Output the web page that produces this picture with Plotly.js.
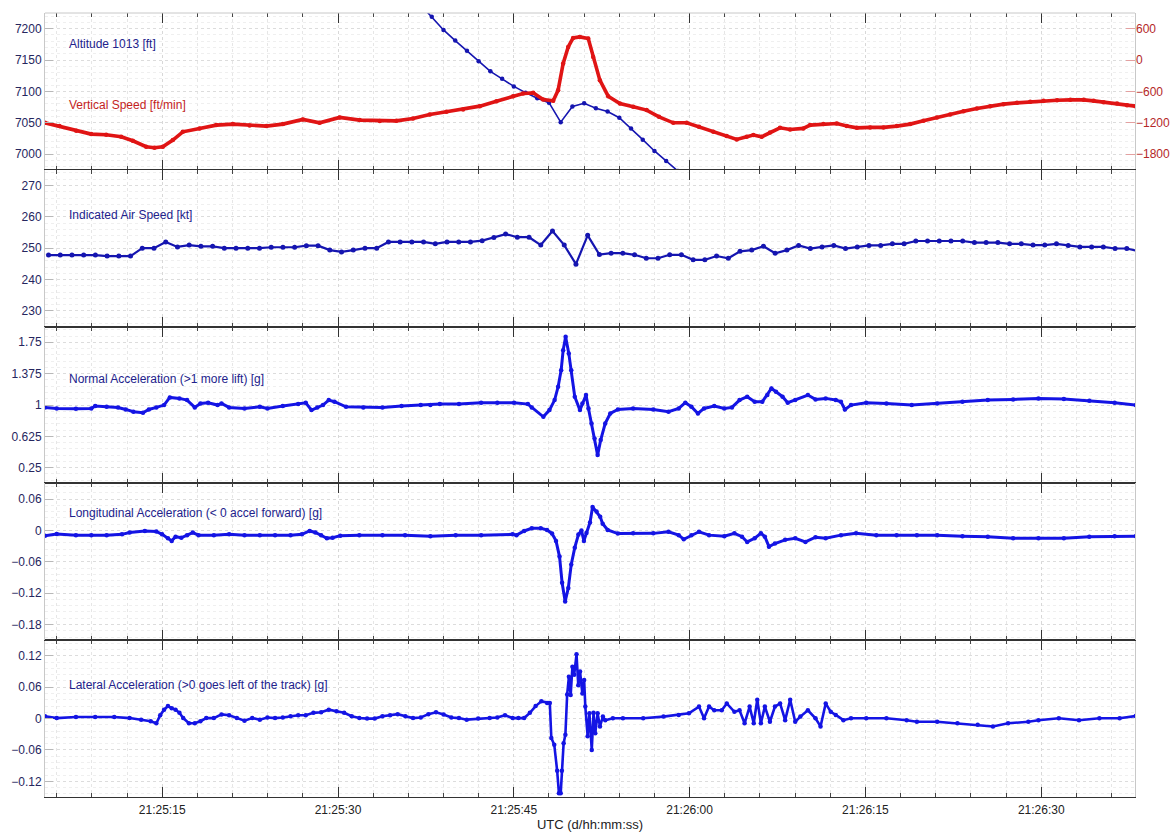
<!DOCTYPE html>
<html>
<head>
<meta charset="utf-8">
<script src="https://cdn.plot.ly/plotly-3.0.1.min.js"></script>
<style>
html,body{margin:0;padding:0;background:#fff;}
#chart{width:1174px;height:834px;}
</style>
</head>
<body>
<div id="chart"></div>
<script>
// ---- time base: seconds after 21:25:00 UTC ----
const baseDate = '2021-01-01';
const xStartLabel = '21:25:05';
const xEndLabel = '21:26:38';

// ---- Panel 1: Altitude 1013 [ft] (left axis) ----
const altTime = [37,38,39,40,41,42,43,44,45,46,47,48,49,50,51,52,53,54,55,56,57,58,59];
const altFt   = [7239,7219,7198,7181,7165,7148,7132,7120,7108,7098,7089,7082,7051,7076,7081,7073,7068,7058,7041,7023,7005,6989,6973];

// ---- Panel 1: Vertical Speed [ft/min] (right axis) ----
const vsTime = [5.0,6.23,7.66,8.94,10.22,11.5,12.49,13.63,14.34,15.05,15.91,16.76,18.19,19.61,21.03,22.46,23.88,25.3,27.0,28.43,30.14,31.85,33.56,34.98,36.4,37.83,39.25,40.67,42.1,43.52,44.94,45.79,46.65,47.5,48.36,48.78,49.21,49.64,50.06,50.63,51.35,51.77,52.34,53.05,54.05,55.19,56.33,57.39,58.6,59.75,60.8,62.02,63.16,64.02,64.87,65.44,66.15,66.86,67.71,68.57,69.7,70.28,71.41,72.56,73.41,74.27,75.4,76.54,77.68,78.82,79.95,81.1,82.23,83.37,84.51,85.65,86.78,87.93,89.06,90.2,91.35,92.48,93.62,94.47,95.32,96.47,97.32,98.03];
const vsFpm  = [-1201,-1264,-1354,-1417,-1430,-1468,-1545,-1659,-1678,-1659,-1531,-1373,-1308,-1245,-1226,-1251,-1264,-1226,-1136,-1201,-1098,-1149,-1165,-1163,-1117,-1041,-991,-945,-882,-787,-691,-640,-628,-754,-781,-576,-66,251,423,442,411,60,-385,-691,-831,-895,-958,-1086,-1201,-1201,-1277,-1373,-1455,-1518,-1468,-1436,-1468,-1384,-1297,-1328,-1308,-1245,-1226,-1213,-1264,-1297,-1289,-1289,-1264,-1226,-1163,-1098,-1041,-978,-926,-882,-844,-819,-800,-781,-768,-762,-762,-781,-806,-831,-863,-882];

// ---- Panel 2: Indicated Air Speed [kt] ----
const iasTime = [5.3,6.3,7.3,8.3,9.3,10.3,11.3,12.3,13.3,14.3,15.3,16.3,17.3,18.3,19.3,20.3,21.3,22.3,23.3,24.3,25.3,26.3,27.3,28.3,29.3,30.3,31.3,32.3,33.3,34.3,35.3,36.3,37.3,38.3,39.3,40.3,41.3,42.3,43.3,44.3,45.3,46.3,47.3,48.3,49.3,50.3,51.3,52.3,53.3,54.3,55.3,56.3,57.3,58.3,59.3,60.3,61.3,62.3,63.3,64.3,65.3,66.3,67.3,68.3,69.3,70.3,71.3,72.3,73.3,74.3,75.3,76.3,77.3,78.3,79.3,80.3,81.3,82.3,83.3,84.3,85.3,86.3,87.3,88.3,89.3,90.3,91.3,92.3,93.3,94.3,95.3,96.3,97.3,98.3];
const iasKt   = [247.8,247.8,247.8,247.8,247.8,247.5,247.5,247.5,250,250,252,250.4,251,250.6,250.6,250,250,250,250,250.3,250.3,250.3,250.8,250.8,249.4,248.8,249.4,250,250,252,252,252,252,251.4,252,252,252,252.4,253.4,254.5,253.5,253.5,251,255.5,251,244.9,254.1,248,248.4,248.4,247.9,246.8,246.8,247.9,247.9,246.3,246.3,247.5,246.8,249,249.4,250.6,248.4,249.4,250.9,249.9,250.4,250.9,249.9,250.4,250.9,250.9,251.4,251.4,252.3,252.3,252.3,252.3,252.3,251.8,251.8,251.8,251.4,251.4,251,251,251.4,250.9,250.4,250.4,250.4,249.9,249.9,249.1];

// ---- Panel 3: Normal Acceleration [g] ----
const nzTime = [5.0,6.0,7.64,8.95,9.28,10.26,11.23,11.89,12.54,13.36,13.86,14.5,15.16,15.65,16.47,17.12,17.78,18.26,18.92,19.73,20.06,20.71,22.02,23.33,23.98,25.29,26.6,27.25,27.74,28.23,28.72,29.21,29.7,30.68,32.16,33.79,35.42,37.06,37.88,38.69,40.32,42.21,43.59,45.02,46.2,46.53,47.52,48.04,48.48,48.78,49.04,49.21,49.42,49.69,49.9,50.2,50.64,50.85,51.16,51.37,51.63,51.89,52.15,52.41,52.8,53.23,53.88,55.18,56.9,58.2,59.07,59.63,60.15,60.71,61.23,62.1,62.96,63.61,64.26,64.91,65.55,66.2,66.63,66.98,67.37,67.93,68.37,69.01,70.09,70.74,71.61,72.47,72.91,73.25,73.77,75.07,76.79,78.95,81.12,83.28,85.44,87.6,89.76,91.93,94.1,96.26,98.07];
const nzG    = [0.971,0.959,0.955,0.959,0.987,0.979,0.971,0.947,0.919,0.907,0.947,0.971,0.999,1.091,1.079,1.059,0.971,1.019,1.027,0.999,1.019,0.971,0.959,0.979,0.959,0.987,1.011,1.027,0.939,0.971,0.999,1.059,1.039,0.979,0.971,0.971,0.987,0.999,0.999,1.011,1.011,1.027,1.027,1.027,1.011,0.971,0.859,0.939,1.059,1.218,1.417,1.656,1.815,1.617,1.417,1.099,0.939,1.019,1.119,0.959,0.78,0.6,0.401,0.58,0.78,0.899,0.947,0.959,0.947,0.919,0.959,1.027,0.979,0.899,0.959,0.987,0.959,0.971,1.059,1.099,1.039,1.039,1.119,1.198,1.158,1.099,1.027,1.059,1.119,1.067,1.079,1.059,1.039,0.947,0.999,1.027,1.019,0.999,1.019,1.039,1.059,1.067,1.079,1.071,1.051,1.027,0.999];

// ---- Panel 4: Longitudinal Acceleration [g] ----
const nxTime = [5.0,6.0,7.64,8.95,10.26,11.57,12.22,13.52,14.5,14.99,15.49,15.81,16.14,16.63,17.12,17.61,18.1,19.41,20.71,22.02,23.33,24.63,25.95,26.92,27.58,28.07,28.56,29.05,29.54,30.19,31.82,33.79,35.72,37.88,40.04,42.21,44.9,45.23,45.88,46.53,47.3,47.83,48.26,48.6,48.9,49.12,49.38,49.65,49.9,50.2,50.51,50.77,50.98,51.2,51.5,51.72,52.06,52.37,52.58,53.01,53.88,55.18,56.9,58.2,59.07,59.5,60.15,60.8,61.66,62.96,63.82,64.47,64.91,65.55,66.08,66.42,66.77,67.28,68.15,69.01,69.88,70.74,71.61,72.91,74.2,75.93,77.66,79.39,81.12,83.28,85.44,87.6,89.76,91.93,94.1,96.26,98.07];
const nxG    = [-0.01,-0.007,-0.009,-0.009,-0.009,-0.0075,-0.004,-0.001,-0.002,-0.0075,-0.015,-0.02,-0.012,-0.014,-0.009,-0.004,-0.009,-0.009,-0.0075,-0.009,-0.009,-0.009,-0.009,-0.0075,-0.001,-0.004,-0.009,-0.015,-0.014,-0.01,-0.009,-0.009,-0.009,-0.011,-0.009,-0.009,-0.0075,-0.009,-0.001,0.004,0.004,0.001,-0.006,-0.02,-0.05,-0.1,-0.136,-0.11,-0.065,-0.033,-0.008,0.0,-0.02,-0.005,0.015,0.045,0.036,0.026,0.013,0.001,-0.006,-0.0056,-0.0056,-0.0025,-0.009,-0.017,-0.009,-0.0025,-0.009,-0.011,-0.0056,-0.012,-0.022,-0.015,-0.0056,-0.012,-0.031,-0.025,-0.018,-0.015,-0.022,-0.013,-0.015,-0.009,-0.0056,-0.009,-0.009,-0.009,-0.009,-0.011,-0.012,-0.015,-0.015,-0.015,-0.012,-0.011,-0.011];

// ---- Panel 5: Lateral Acceleration [g] ----
const nyTime = [5.0,6.0,7.64,9.28,10.91,12.22,13.2,14.02,14.5,14.83,15.16,15.49,15.81,16.14,16.47,16.79,17.28,17.78,18.26,18.76,19.41,20.06,20.71,21.37,22.02,22.68,23.33,23.98,24.63,25.29,25.95,26.6,27.25,27.9,28.56,29.21,29.87,30.52,31.17,31.82,32.48,33.13,33.79,34.44,35.09,35.75,36.4,37.06,37.71,38.36,39.01,39.67,40.32,40.98,41.96,42.94,43.59,44.25,44.9,45.39,45.88,46.37,46.86,47.35,47.84,48.07,48.2,48.45,48.7,48.85,49.0,49.1,49.25,49.4,49.55,49.7,49.85,50.0,50.15,50.35,50.5,50.65,50.85,51.0,51.1,51.3,51.45,51.65,51.8,51.95,52.15,52.35,52.6,52.8,53.45,54.31,56.04,57.77,59.07,59.94,60.8,61.23,61.66,62.1,62.74,63.17,63.82,64.26,64.69,65.12,65.47,65.77,66.08,66.42,66.85,67.28,67.72,68.15,68.58,69.01,69.45,70.09,70.74,71.17,71.61,72.04,72.47,73.12,73.77,75.07,76.79,78.52,79.39,81.12,82.85,84.58,85.88,87.17,88.9,89.76,91.5,93.22,94.96,96.69,98.07];
const nyG    = [0.0045,0.001,0.003,0.003,0.003,0.001,-0.002,-0.005,-0.009,0.0065,0.017,0.024,0.02,0.017,0.011,0.001,-0.009,-0.009,-0.005,0.001,0.001,0.008,0.0065,0.001,-0.004,0.001,-0.002,0.002,0.001,0.002,0.0045,0.0065,0.0065,0.011,0.012,0.017,0.014,0.011,0.0045,0.001,0.0,0.0,0.0045,0.0065,0.0085,0.0045,0.001,0.002,0.0085,0.012,0.008,0.002,0.001,-0.002,0.0,0.001,0.002,0.0065,0.001,0.001,0.001,0.011,0.024,0.033,0.03,0.03,-0.037,-0.05,-0.1,-0.143,-0.143,-0.1,-0.047,-0.031,0.046,0.08,0.045,0.099,0.084,0.123,0.064,0.09,0.048,0.074,0.023,-0.034,0.01,-0.06,0.011,-0.028,0.01,-0.015,0.004,-0.003,0.0006,0.0006,0.0006,0.0038,0.007,0.01,0.023,0.0006,0.023,0.016,0.016,0.029,0.013,0.016,-0.009,0.023,-0.009,0.036,-0.009,0.023,-0.006,0.023,0.029,-0.003,0.036,-0.006,0.0038,0.016,0.0006,-0.015,0.029,0.013,0.007,-0.003,0.0006,0.0006,0.0006,-0.003,-0.006,-0.006,-0.009,-0.012,-0.015,-0.009,-0.006,-0.003,0.0006,-0.003,0.0006,0.0006,0.005];

// ---- tick values / labels ----
const altTicks = [7000,7050,7100,7150,7200];
const vsTicks = [-1800,-1200,-600,0,600];
const iasTicks = [230,240,250,260,270];
const nzTicks = [0.25,0.625,1,1.375,1.75];
const nzTickText = ['0.25','0.625','1','1.375','1.75'];
const nxTicks = [-0.18,-0.12,-0.06,0,0.06];
const nyTicks = [-0.12,-0.06,0,0.06,0.12];
const xTitle = 'UTC (d/hh:mm:ss)';
const panelLabels = ['Altitude 1013 [ft]','Vertical Speed [ft/min]','Indicated Air Speed [kt]','Normal Acceleration (>1 more lift) [g]','Longitudinal Acceleration (< 0 accel forward) [g]','Lateral Acceleration (>0 goes left of the track) [g]'];

// ---- helpers ----
const base = Date.UTC(2021,0,1,21,25,0);
const toX = arr => arr.map(s => base + s*1000);
const FONT = 'Liberation Sans, Arial, sans-serif';
const BLUE = '#1414e4';
const DBLUE = '#1515b0';
const RED = '#e01414';

function trace(t, v, xa, ya, color, lw, ms){
  return {x: toX(t), y: v, xaxis: xa, yaxis: ya, type: 'scatter', mode: 'lines+markers',
    line: {color: color, width: lw}, marker: {color: color, size: ms}, hoverinfo: 'skip'};
}

const data = [
  trace(vsTime, vsFpm, 'x2', 'y2', RED, 3.6, 4.5),
  trace(altTime, altFt, 'x2', 'y', DBLUE, 1.6, 4.5),
  trace(iasTime, iasKt, 'x3', 'y3', DBLUE, 2.2, 5),
  trace(nzTime, nzG, 'x4', 'y4', BLUE, 3, 4.5),
  trace(nxTime, nxG, 'x5', 'y5', BLUE, 3, 4.5),
  trace(nyTime, nyG, 'x', 'y6', BLUE, 2.6, 4.5)
];

const H = 0.2;
function xAxis(anchor, labels, line){
  const a = {
    type: 'date', anchor: anchor, domain: [0,1],
    range: [baseDate+' '+xStartLabel, baseDate+' '+xEndLabel],
    tick0: baseDate+' 21:25:00', dtick: 15000, tickformat: '%H:%M:%S',
    ticks: 'inside', ticklen: 10, tickcolor: '#333', tickwidth: 1,
    showline: line, linecolor: '#333', linewidth: 1, mirror: 'ticks',
    showgrid: true, gridcolor: '#d8d8d8', griddash: 'dot', gridwidth: 1,
    zeroline: false, showticklabels: labels,
    tickfont: {family: FONT, size: 12, color: '#222'},
    minor: {tick0: baseDate+' 21:25:00', dtick: 3000, ticks: 'inside', ticklen: 4, tickcolor: '#444',
            showgrid: true, gridcolor: '#e6e6e6', griddash: 'dot', gridwidth: 1},
    fixedrange: true
  };
  if (anchor !== 'y6') a.matches = 'x';
  if (labels) { a.title = {text: xTitle, font: {family: FONT, size: 13, color: '#222'}, standoff: 1}; a.ticklabelstandoff = 2; }
  return a;
}
function yAxis(domIdx, range, ticks, minorStep, text){
  const a = {
    domain: [1-(domIdx+1)*H, 1-domIdx*H], range: range, tickmode: 'array', tickvals: ticks,
    ticks: 'inside', ticklen: 8, tickcolor: '#b8b8b8',
    showline: true, linecolor: '#c8c8c8', linewidth: 1, mirror: true,
    showgrid: true, gridcolor: '#dcdcdc', griddash: 'dot', zeroline: false,
    tickfont: {family: FONT, size: 12, color: '#26265e'},
    minor: {tickmode: 'linear', tick0: ticks[0], dtick: minorStep, showgrid: true, gridcolor: '#efefef', griddash: 'dot'},
    fixedrange: true
  };
  if (text) a.ticktext = text;
  return a;
}

const layout = {
  width: 1174, height: 834,
  margin: {l: 45, r: 39, t: 13, b: 37, pad: 0},
  paper_bgcolor: '#fff', plot_bgcolor: '#fff',
  showlegend: false,
  font: {family: FONT, size: 12, color: '#222'},
  xaxis: xAxis('y6', true, true),
  xaxis2: xAxis('y', false, false),
  xaxis3: xAxis('y3', false, true),
  xaxis4: xAxis('y4', false, true),
  xaxis5: xAxis('y5', false, true),
  yaxis: Object.assign(yAxis(0, [6975,7225], altTicks, 10), {anchor: 'x2'}),
  yaxis2: {overlaying: 'y', side: 'right', anchor: 'x2', range: [-2100,900], tickmode: 'array', tickvals: vsTicks,
           ticks: 'inside', ticklen: 9, tickcolor: '#e4a0a0', showline: false, showgrid: false, zeroline: false,
           tickfont: {family: FONT, size: 12, color: '#b42828'}, fixedrange: true},
  yaxis3: Object.assign(yAxis(1, [225,275], iasTicks, 2), {anchor: 'x3'}),
  yaxis4: Object.assign(yAxis(2, [0.0625,1.9375], nzTicks, 0.075, nzTickText), {anchor: 'x4'}),
  yaxis5: Object.assign(yAxis(3, [-0.21,0.09], nxTicks, 0.012), {anchor: 'x5'}),
  yaxis6: Object.assign(yAxis(4, [-0.15,0.15], nyTicks, 0.012), {anchor: 'x'}),
  shapes: [
    {type: 'line', xref: 'paper', yref: 'paper', x0: 0, x1: 1, y0: 1, y1: 1, line: {color: '#c8c8c8', width: 1}}
  ],
  annotations: []
};

const labelY = [0.9605, 0.8827, 0.7423, 0.5332, 0.3622, 0.1429];
const labelColor = ['#22228c', '#c41e1e', '#22228c', '#22228c', '#22228c', '#22228c'];
panelLabels.forEach((txt, i) => {
  layout.annotations.push({text: txt, xref: 'paper', yref: 'paper', x: 0.0202, y: labelY[i],
    xanchor: 'left', yanchor: 'middle', showarrow: false,
    font: {family: FONT, size: 12, color: labelColor[i]}});
});

Plotly.newPlot('chart', data, layout, {staticPlot: true, displayModeBar: false});
</script>
</body>
</html>
